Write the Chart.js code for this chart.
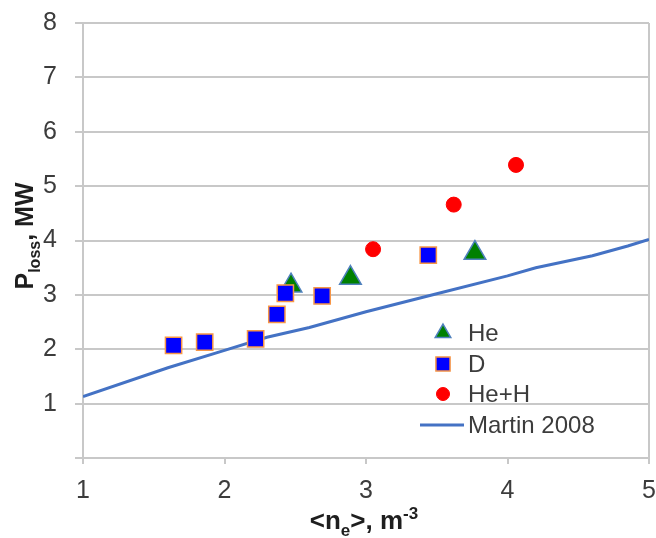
<!DOCTYPE html>
<html>
<head>
<meta charset="utf-8">
<script src="https://cdn.jsdelivr.net/npm/chart.js@4.4.1/dist/chart.umd.min.js"></script>
<style>
  html, body { margin: 0; padding: 0; background: #fff; }
</style>
</head>
<body>
<canvas id="chart" width="656" height="538"></canvas>
<script>
// values
const heX = [2.47, 2.89, 3.77];
const heY = [3.17, 3.31, 3.77];
const dX = [1.64, 1.86, 2.22, 2.37, 2.43, 2.69, 3.44];
const dY = [2.07, 2.13, 2.19, 2.64, 3.03, 2.98, 3.73];
const hehX = [3.05, 3.62, 4.06];
const hehY = [3.84, 4.66, 5.39];
const martinX = [1.0, 1.6, 2.0, 2.3, 2.6, 3.0, 3.5, 4.0, 4.2, 4.6, 4.85, 5.0];
const martinY = [1.13, 1.66, 1.98, 2.22, 2.40, 2.69, 3.02, 3.35, 3.50, 3.72, 3.90, 4.02];
const seriesNames = ['He', 'D', 'He+H', 'Martin 2008'];

const FONT = "'Liberation Sans', Arial, sans-serif";
const GRID = '#c8c8c8';
const TEXT = '#3c3c3c';

const toPts = (xs, ys) => xs.map((x, i) => ({ x: x, y: ys[i] }));

// draw text with sub/superscript pieces
function richText(ctx, parts, cx, baseY, size) {
  const fonts = p => (p.s === 'main' ? 'bold ' + size + 'px ' : 'bold ' + Math.round(size * 0.65) + 'px ') + FONT;
  let w = 0;
  parts.forEach(p => { ctx.font = fonts(p); w += ctx.measureText(p.t).width; });
  let x = cx - w / 2;
  ctx.textAlign = 'left';
  ctx.textBaseline = 'alphabetic';
  parts.forEach(p => {
    ctx.font = fonts(p);
    const dy = p.s === 'sub' ? size * 0.28 : (p.s === 'sup' ? -size * 0.38 : 0);
    ctx.fillText(p.t, x, baseY + dy);
    x += ctx.measureText(p.t).width;
  });
}

const axisTitles = {
  id: 'axisTitles',
  afterDraw(chart) {
    const ctx = chart.ctx;
    ctx.save();
    ctx.fillStyle = '#1e1e1e';
    richText(ctx, [{ t: '<n', s: 'main' }, { t: 'e', s: 'sub' }, { t: '>, m', s: 'main' }, { t: '-3', s: 'sup' }], 364, 529, 26);
    ctx.translate(33, 236);
    ctx.rotate(-Math.PI / 2);
    richText(ctx, [{ t: 'P', s: 'main' }, { t: 'loss', s: 'sub' }, { t: ', MW', s: 'main' }], 0, 0, 25);
    ctx.restore();
  }
};

function marker(ctx, style, x, y, r) {
  ctx.beginPath();
  if (style === 'triangle') {
    ctx.moveTo(x, y - r);
    ctx.lineTo(x + r * 0.866, y + r / 2);
    ctx.lineTo(x - r * 0.866, y + r / 2);
    ctx.closePath();
  } else if (style === 'rect') {
    const h = r * Math.SQRT1_2;
    ctx.rect(x - h, y - h, 2 * h, 2 * h);
  } else {
    ctx.arc(x, y, r, 0, Math.PI * 2);
  }
  ctx.fill();
  ctx.stroke();
}

const insideLegend = {
  id: 'insideLegend',
  afterDraw(chart) {
    const ctx = chart.ctx;
    const rows = [
      { ds: 0, y: 333, r: 9 },
      { ds: 1, y: 364, r: 10 },
      { ds: 2, y: 394, r: 6.5 },
      { ds: 3, y: 425 }
    ];
    ctx.save();
    rows.forEach(row => {
      const ds = chart.data.datasets[row.ds];
      if (ds.showLine) {
        ctx.strokeStyle = ds.borderColor;
        ctx.lineWidth = ds.borderWidth;
        ctx.beginPath();
        ctx.moveTo(420, row.y);
        ctx.lineTo(464, row.y);
        ctx.stroke();
      } else {
        ctx.fillStyle = ds.pointBackgroundColor;
        ctx.strokeStyle = ds.pointBorderColor;
        ctx.lineWidth = ds.pointBorderWidth;
        marker(ctx, ds.pointStyle, 443, row.y, row.r);
      }
      ctx.fillStyle = TEXT;
      ctx.font = '24px ' + FONT;
      ctx.textAlign = 'left';
      ctx.textBaseline = 'middle';
      ctx.fillText(ds.label, 468, row.y + 1);
    });
    ctx.restore();
  }
};

// keep the plot box where the reference has it
const noOverhang = s => {
  s.paddingTop = 0;
  s.paddingBottom = 0;
  s.paddingLeft = 0;
  s.paddingRight = 0;
};

new Chart(document.getElementById('chart'), {
  type: 'scatter',
  data: {
    datasets: [
      {
        label: seriesNames[0],
        data: toPts(heX, heY),
        pointStyle: 'triangle',
        pointRadius: 12.5,
        pointBackgroundColor: '#008000',
        pointBorderColor: '#4f81bd',
        pointBorderWidth: 1.5,
        order: 3
      },
      {
        label: seriesNames[1],
        data: toPts(dX, dY),
        pointStyle: 'rect',
        pointRadius: 11.5,
        pointBackgroundColor: '#0000ff',
        pointBorderColor: '#f79646',
        pointBorderWidth: 1.5,
        order: 2
      },
      {
        label: seriesNames[2],
        data: toPts(hehX, hehY),
        pointStyle: 'circle',
        pointRadius: 7.5,
        pointBackgroundColor: '#ff0000',
        pointBorderColor: '#ff0000',
        pointBorderWidth: 1,
        order: 1
      },
      {
        label: seriesNames[3],
        data: toPts(martinX, martinY),
        showLine: true,
        borderColor: '#4472c4',
        borderWidth: 3,
        pointRadius: 0,
        tension: 0,
        order: 4
      }
    ]
  },
  options: {
    responsive: false,
    animation: false,
    layout: { autoPadding: false, padding: { left: 0, top: 23, right: 7, bottom: 0 } },
    plugins: {
      legend: { display: false },
      tooltip: { enabled: false }
    },
    scales: {
      x: {
        type: 'linear',
        min: 1,
        max: 5,
        afterFit: s => { s.height = 80; noOverhang(s); },
        ticks: { stepSize: 1, color: TEXT, padding: 12, font: { family: FONT, size: 25 } },
        grid: {
          color: c => (c.tick && c.tick.value === 5 ? GRID : 'rgba(0,0,0,0)'),
          tickColor: GRID,
          lineWidth: 2,
          tickLength: 6
        },
        border: { color: GRID, width: 2 }
      },
      y: {
        min: 0,
        max: 8,
        afterFit: s => { s.width = 83; noOverhang(s); },
        ticks: {
          stepSize: 1,
          color: TEXT,
          padding: 18,
          font: { family: FONT, size: 25 },
          callback: v => (v === 0 ? '' : v)
        },
        grid: { color: GRID, lineWidth: 2, tickLength: 8 },
        border: { color: GRID, width: 2 }
      }
    }
  },
  plugins: [axisTitles, insideLegend]
});
</script>
</body>
</html>
